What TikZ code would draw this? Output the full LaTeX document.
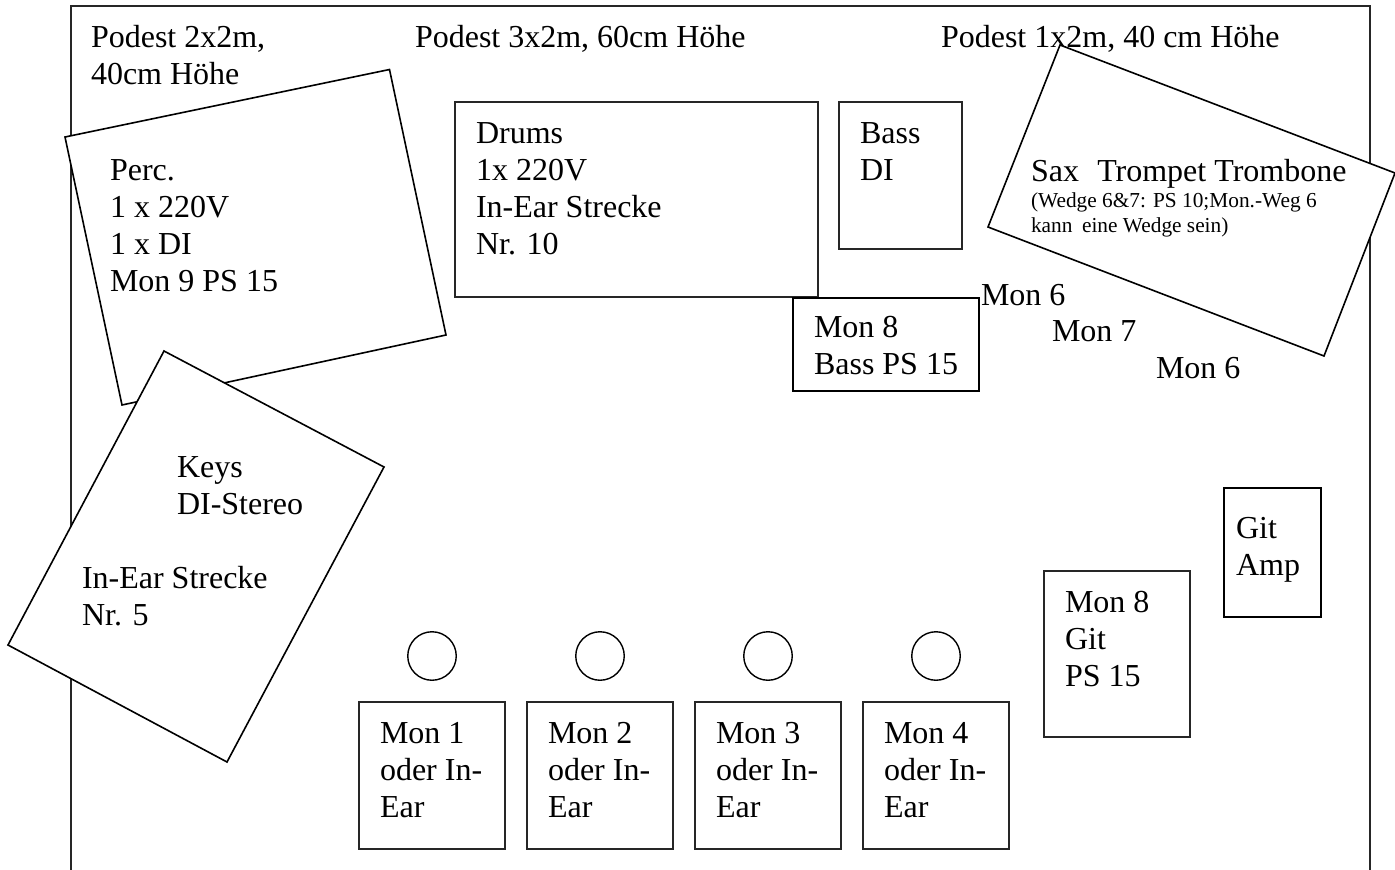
\documentclass[tikz,border=0pt]{standalone}
\usepackage{fontspec}
\setmainfont{Liberation Serif}
\tikzset{
  x=1pt,y=-1pt,
  box/.style={draw=black!85,line width=1.4pt,fill=white,line join=miter},
  heavybox/.style={draw=black,line width=1.9pt,fill=white,line join=miter},
  slanted/.style={draw=black,line width=1.6pt,fill=white,line join=miter},
  framing/.style={draw=black!85,line width=1.3pt},
  lbl/.style={anchor=north west,inner sep=0pt,outer sep=0pt,align=left,font=\fontsize{32}{37}\selectfont},
  small/.style={anchor=north west,inner sep=0pt,outer sep=0pt,align=left,font=\fontsize{21.33}{24.5}\selectfont},
}
\begin{document}
\begin{tikzpicture}
\useasboundingbox (0,0) rectangle (1395,870);
\fill[white] (0,0) rectangle (1395,870);
\coordinate (fa) at (71,870);
\coordinate (fb) at (71,6);
\coordinate (fc) at (1370,6);
\coordinate (fd) at (1370,870);
\draw[framing] (fa) -- (fb) -- (fc) -- (fd);
\node[lbl] (t1) at (91,25) {Podest 2x2m,\\40cm Höhe};
\node[lbl] (t2) at (415,25) {Podest 3x2m, 60cm Höhe};
\node[lbl] (t3) at (941,25) {Podest 1x2m, 40 cm Höhe};
\path[slanted] (65,137) -- (389.5,69.5) -- (446,335) -- (122,405) -- cycle;
\node[lbl] (perc) at (110,160) {Perc.\\1 x 220V\\1 x DI\\Mon 9 PS 15};
\path[slanted] (164,351) -- (384,467) -- (227,762) -- (8,645) -- cycle;
\node[lbl] (keys) at (177,457) {Keys\\DI-Stereo};
\node[lbl] (ear) at (82,566) {In-Ear Strecke\\Nr. 5};
\path[box] (455,102) rectangle (818,297);
\node[lbl] (drums) at (476,123) {Drums\\1x 220V\\In-Ear Strecke\\Nr. 10};
\path[box] (839,102) rectangle (962,249);
\node[lbl] (bass) at (860,123) {Bass\\DI};
\path[heavybox] (793,298) rectangle (979,391);
\node[lbl] (m8b) at (814,316) {Mon 8\\Bass PS 15};
\path[slanted] (1060,45) -- (1395,173) -- (1324,356) -- (988,227) -- cycle;
\node[lbl] (sax) at (1031,159) {Sax\hspace{0.32em} Trompet Trombone};
\node[small] (wedge) at (1031,193) {(Wedge 6\&7: PS 10;Mon.-Weg 6\\kann\hspace{0.2em} eine Wedge sein)};
\node[lbl] (m6a) at (981,284) {Mon 6};
\node[lbl] (m7) at (1052,321) {Mon 7};
\node[lbl] (m6b) at (1156,357) {Mon 6};
\path[heavybox] (1224,488) rectangle (1321,617);
\node[lbl] (git) at (1236,517) {Git\\Amp};
\path[box] (1044,571) rectangle (1190,737);
\node[lbl] (m8g) at (1065,591) {Mon 8\\Git\\PS 15};
\foreach \i/\x in {1/359,2/527,3/695,4/863}{
  \path[box] (\x,702) rectangle +(146,147);
  \node[lbl] (mon\i) at (\x+21,722) {Mon \i\\oder In-\\Ear};
  \node[draw=black,line width=1.4pt,circle,minimum size=48.5pt,inner sep=0pt] (c\i) at (\x+73,656) {};
}
\end{tikzpicture}
\end{document}
